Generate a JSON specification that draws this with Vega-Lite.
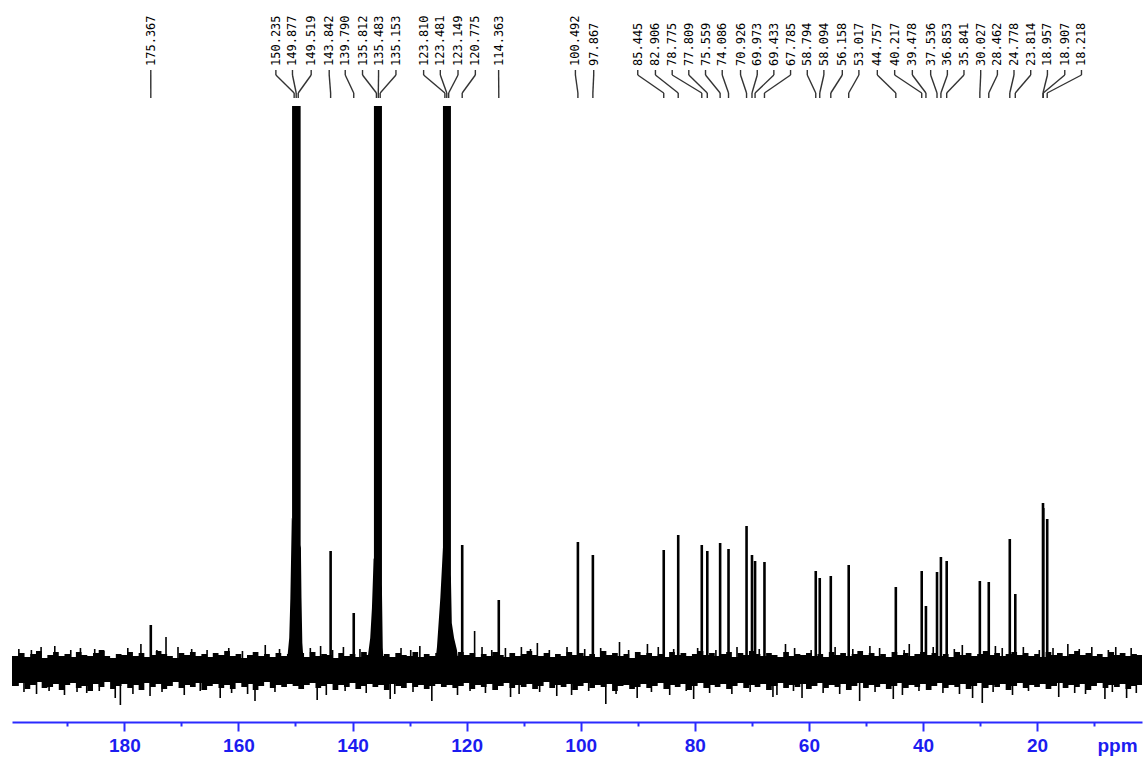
{
"$schema": "https://vega.github.io/schema/vega-lite/v6.json",
"width": 1130, "height": 722,
"autosize": {"type": "none"},
"padding": {"left": 12, "top": 0, "right": 4, "bottom": 38},
"background": "white",
"config": {"view": {"stroke": null}},
"resolve": {"axis": {"x": "independent"}},
"datasets": {
"noise": [
{"p":199.7,"hi":12,"lo":-18},{"p":199,"hi":12,"lo":-18},{"p":198,"hi":15,"lo":-15},{"p":197,"hi":11,"lo":-21},{"p":196,"hi":14,"lo":-17},{"p":195,"hi":17,"lo":-14},{"p":194,"hi":10,"lo":-20},{"p":193,"hi":13,"lo":-19},{"p":192,"hi":16,"lo":-16},{"p":191,"hi":12,"lo":-22},{"p":190,"hi":14,"lo":-17},
{"p":189,"hi":11,"lo":-15},{"p":188,"hi":16,"lo":-20},{"p":187,"hi":13,"lo":-18},{"p":186,"hi":12,"lo":-23},{"p":185,"hi":15,"lo":-16},{"p":184,"hi":18,"lo":-19},{"p":183,"hi":12,"lo":-14},{"p":182,"hi":10,"lo":-21},{"p":181,"hi":14,"lo":-18},{"p":180,"hi":13,"lo":-16},
{"p":179,"hi":16,"lo":-20},{"p":178,"hi":12,"lo":-17},{"p":177,"hi":15,"lo":-22},{"p":176,"hi":11,"lo":-15},{"p":175,"hi":13,"lo":-19},{"p":174,"hi":17,"lo":-16},{"p":173,"hi":14,"lo":-21},{"p":172,"hi":12,"lo":-18},{"p":171,"hi":10,"lo":-14},{"p":170,"hi":15,"lo":-20},
{"p":169,"hi":13,"lo":-17},{"p":168,"hi":16,"lo":-19},{"p":167,"hi":12,"lo":-15},{"p":166,"hi":14,"lo":-22},{"p":165,"hi":11,"lo":-18},{"p":164,"hi":15,"lo":-16},{"p":163,"hi":13,"lo":-20},{"p":162,"hi":17,"lo":-17},{"p":161,"hi":12,"lo":-21},{"p":160,"hi":14,"lo":-15},
{"p":159,"hi":10,"lo":-19},{"p":158,"hi":13,"lo":-16},{"p":157,"hi":16,"lo":-22},{"p":156,"hi":12,"lo":-18},{"p":155,"hi":14,"lo":-14},{"p":154,"hi":11,"lo":-20},{"p":153,"hi":15,"lo":-17},{"p":152,"hi":12,"lo":-19},{"p":151,"hi":14,"lo":-16},{"p":150,"hi":13,"lo":-18},
{"p":149,"hi":15,"lo":-21},{"p":148,"hi":11,"lo":-17},{"p":147,"hi":16,"lo":-15},{"p":146,"hi":12,"lo":-20},{"p":145,"hi":14,"lo":-18},{"p":144,"hi":13,"lo":-16},{"p":143,"hi":10,"lo":-22},{"p":142,"hi":15,"lo":-17},{"p":141,"hi":12,"lo":-19},{"p":140,"hi":14,"lo":-15},
{"p":139,"hi":11,"lo":-21},{"p":138,"hi":16,"lo":-18},{"p":137,"hi":13,"lo":-16},{"p":136,"hi":15,"lo":-19},{"p":135,"hi":12,"lo":-17},{"p":134,"hi":14,"lo":-22},{"p":133,"hi":11,"lo":-16},{"p":132,"hi":15,"lo":-18},{"p":131,"hi":13,"lo":-20},{"p":130,"hi":12,"lo":-15},
{"p":129,"hi":16,"lo":-19},{"p":128,"hi":11,"lo":-17},{"p":127,"hi":14,"lo":-21},{"p":126,"hi":12,"lo":-18},{"p":125,"hi":15,"lo":-16},{"p":124,"hi":13,"lo":-19},{"p":123,"hi":14,"lo":-17},{"p":122,"hi":12,"lo":-20},{"p":121,"hi":16,"lo":-18},{"p":120,"hi":13,"lo":-15},
{"p":119,"hi":15,"lo":-21},{"p":118,"hi":11,"lo":-17},{"p":117,"hi":14,"lo":-19},{"p":116,"hi":12,"lo":-16},{"p":115,"hi":16,"lo":-22},{"p":114,"hi":13,"lo":-18},{"p":113,"hi":11,"lo":-15},{"p":112,"hi":15,"lo":-20},{"p":111,"hi":12,"lo":-17},{"p":110,"hi":14,"lo":-19},
{"p":109,"hi":17,"lo":-16},{"p":108,"hi":13,"lo":-21},{"p":107,"hi":12,"lo":-18},{"p":106,"hi":15,"lo":-14},{"p":105,"hi":11,"lo":-20},{"p":104,"hi":14,"lo":-17},{"p":103,"hi":12,"lo":-19},{"p":102,"hi":16,"lo":-16},{"p":101,"hi":13,"lo":-22},{"p":100,"hi":15,"lo":-18},
{"p":99,"hi":12,"lo":-15},{"p":98,"hi":14,"lo":-20},{"p":97,"hi":11,"lo":-17},{"p":96,"hi":17,"lo":-19},{"p":95,"hi":13,"lo":-16},{"p":94,"hi":15,"lo":-23},{"p":93,"hi":12,"lo":-18},{"p":92,"hi":14,"lo":-17},{"p":91,"hi":10,"lo":-21},{"p":90,"hi":16,"lo":-19},
{"p":89,"hi":13,"lo":-16},{"p":88,"hi":15,"lo":-20},{"p":87,"hi":12,"lo":-18},{"p":86,"hi":14,"lo":-15},{"p":85,"hi":11,"lo":-21},{"p":84,"hi":16,"lo":-17},{"p":83,"hi":13,"lo":-19},{"p":82,"hi":15,"lo":-16},{"p":81,"hi":12,"lo":-22},{"p":80,"hi":14,"lo":-18},
{"p":79,"hi":17,"lo":-15},{"p":78,"hi":13,"lo":-20},{"p":77,"hi":15,"lo":-17},{"p":76,"hi":12,"lo":-19},{"p":75,"hi":14,"lo":-16},{"p":74,"hi":16,"lo":-21},{"p":73,"hi":11,"lo":-18},{"p":72,"hi":15,"lo":-15},{"p":71,"hi":13,"lo":-20},{"p":70,"hi":17,"lo":-17},
{"p":69,"hi":14,"lo":-19},{"p":68,"hi":12,"lo":-16},{"p":67,"hi":15,"lo":-22},{"p":66,"hi":13,"lo":-18},{"p":65,"hi":11,"lo":-15},{"p":64,"hi":16,"lo":-20},{"p":63,"hi":12,"lo":-17},{"p":62,"hi":14,"lo":-19},{"p":61,"hi":13,"lo":-16},{"p":60,"hi":15,"lo":-21},
{"p":59,"hi":12,"lo":-18},{"p":58,"hi":14,"lo":-15},{"p":57,"hi":11,"lo":-20},{"p":56,"hi":16,"lo":-17},{"p":55,"hi":13,"lo":-19},{"p":54,"hi":15,"lo":-16},{"p":53,"hi":12,"lo":-22},{"p":52,"hi":14,"lo":-18},{"p":51,"hi":17,"lo":-15},{"p":50,"hi":13,"lo":-20},
{"p":49,"hi":15,"lo":-17},{"p":48,"hi":12,"lo":-19},{"p":47,"hi":14,"lo":-16},{"p":46,"hi":11,"lo":-21},{"p":45,"hi":16,"lo":-18},{"p":44,"hi":13,"lo":-15},{"p":43,"hi":15,"lo":-20},{"p":42,"hi":12,"lo":-17},{"p":41,"hi":14,"lo":-19},{"p":40,"hi":16,"lo":-16},
{"p":39,"hi":13,"lo":-22},{"p":38,"hi":15,"lo":-18},{"p":37,"hi":12,"lo":-15},{"p":36,"hi":14,"lo":-20},{"p":35,"hi":11,"lo":-17},{"p":34,"hi":16,"lo":-19},{"p":33,"hi":13,"lo":-16},{"p":32,"hi":15,"lo":-21},{"p":31,"hi":12,"lo":-18},{"p":30,"hi":14,"lo":-15},
{"p":29,"hi":17,"lo":-20},{"p":28,"hi":13,"lo":-17},{"p":27,"hi":15,"lo":-19},{"p":26,"hi":12,"lo":-16},{"p":25,"hi":14,"lo":-22},{"p":24,"hi":16,"lo":-18},{"p":23,"hi":13,"lo":-15},{"p":22,"hi":15,"lo":-20},{"p":21,"hi":12,"lo":-17},{"p":20,"hi":14,"lo":-19},
{"p":19,"hi":11,"lo":-16},{"p":18,"hi":16,"lo":-21},{"p":17,"hi":13,"lo":-18},{"p":16,"hi":15,"lo":-15},{"p":15,"hi":12,"lo":-20},{"p":14,"hi":14,"lo":-17},{"p":13,"hi":17,"lo":-19},{"p":12,"hi":13,"lo":-16},{"p":11,"hi":15,"lo":-22},{"p":10,"hi":12,"lo":-18},
{"p":9,"hi":14,"lo":-15},{"p":8,"hi":11,"lo":-20},{"p":7,"hi":16,"lo":-17},{"p":6,"hi":13,"lo":-19},{"p":5,"hi":15,"lo":-16},{"p":4,"hi":12,"lo":-21},{"p":3,"hi":14,"lo":-18},{"p":2,"hi":13,"lo":-17},{"p":1.6,"hi":13,"lo":-17}
],
"spikes": [
{"p":172.7,"h":31},{"p":118.6,"h":37},{"p":192.2,"h":22},{"p":177.1,"h":24},{"p":155.3,"h":23},{"p":145.6,"h":22},{"p":128.2,"h":22},{"p":110.4,"h":21},{"p":107.6,"h":25},{"p":93.2,"h":26},{"p":88.3,"h":24},{"p":64.1,"h":24},{"p":49.3,"h":22},{"p":42.4,"h":24},{"p":33.1,"h":23},{"p":27.3,"h":22},{"p":14.6,"h":24},{"p":6.2,"h":21},
{"p":180.7,"h":-37},{"p":181.6,"h":-30},{"p":175.5,"h":-28},{"p":163.2,"h":-30},{"p":157.1,"h":-33},{"p":146.2,"h":-32},{"p":133.4,"h":-31},{"p":126.1,"h":-33},{"p":112.3,"h":-29},{"p":104.2,"h":-28},{"p":95.6,"h":-36},{"p":90.1,"h":-30},{"p":80.2,"h":-31},{"p":66.3,"h":-29},{"p":61.2,"h":-30},{"p":51.1,"h":-33},{"p":45.2,"h":-31},{"p":31.3,"h":-30},{"p":29.6,"h":-35},{"p":16.2,"h":-29},{"p":8.1,"h":-31},{"p":4.3,"h":-30},
{"p":198.5,"h":19},{"p":196.3,"h":18},{"p":194.6,"h":21},{"p":189.4,"h":18},{"p":187.7,"h":20},{"p":185.2,"h":19},{"p":183.6,"h":17},{"p":179.4,"h":20},{"p":174.3,"h":18},{"p":170.6,"h":21},{"p":168.2,"h":19},{"p":165.5,"h":18},{"p":161.7,"h":20},{"p":159.3,"h":17},{"p":152.8,"h":19},{"p":147.4,"h":20},{"p":143.5,"h":18},{"p":141.6,"h":21},{"p":138.7,"h":19},{"p":131.5,"h":20},{"p":129.8,"h":18},{"p":124.9,"h":19},{"p":117.3,"h":21},{"p":115.6,"h":18},{"p":113.2,"h":20},{"p":108.8,"h":19},{"p":105.5,"h":18},{"p":102.4,"h":21},{"p":99.3,"h":19},{"p":96.5,"h":20},{"p":91.6,"h":18},{"p":86.4,"h":21},{"p":83.7,"h":19},{"p":79.5,"h":20},{"p":76.3,"h":18},{"p":72.6,"h":21},{"p":68.7,"h":19},{"p":62.5,"h":20},{"p":59.6,"h":18},{"p":55.4,"h":21},{"p":52.3,"h":19},{"p":47.6,"h":20},{"p":43.3,"h":18},{"p":38.2,"h":21},{"p":34.5,"h":19},{"p":26.1,"h":20},{"p":22.4,"h":21},{"p":19.6,"h":18},{"p":17.2,"h":20},{"p":12.6,"h":19},{"p":10.4,"h":21},{"p":7.5,"h":18},{"p":3.5,"h":20},
{"p":197.6,"h":-24},{"p":195.4,"h":-26},{"p":193.2,"h":-23},{"p":190.5,"h":-27},{"p":188.3,"h":-24},{"p":186.6,"h":-25},{"p":184.4,"h":-23},{"p":178.5,"h":-26},{"p":173.4,"h":-24},{"p":169.5,"h":-27},{"p":166.7,"h":-23},{"p":161.2,"h":-25},{"p":158.4,"h":-26},{"p":153.6,"h":-24},{"p":144.6,"h":-27},{"p":141.3,"h":-23},{"p":137.6,"h":-25},{"p":132.6,"h":-26},{"p":129.4,"h":-24},{"p":121.6,"h":-27},{"p":119.4,"h":-23},{"p":116.7,"h":-25},{"p":110.8,"h":-26},{"p":107.2,"h":-24},{"p":101.6,"h":-27},{"p":98.6,"h":-23},{"p":93.8,"h":-26},{"p":87.6,"h":-24},{"p":84.4,"h":-27},{"p":81.5,"h":-23},{"p":77.4,"h":-25},{"p":73.5,"h":-26},{"p":70.3,"h":-24},{"p":65.6,"h":-27},{"p":62.7,"h":-23},{"p":57.5,"h":-25},{"p":54.6,"h":-26},{"p":48.4,"h":-24},{"p":43.6,"h":-27},{"p":40.7,"h":-23},{"p":36.5,"h":-25},{"p":33.6,"h":-26},{"p":27.7,"h":-24},{"p":24.3,"h":-27},{"p":21.5,"h":-23},{"p":13.4,"h":-25},{"p":11.5,"h":-26},{"p":6.8,"h":-24},{"p":2.6,"h":-25}
],
"peaks": [
{"p":175.367,"h":43,"lab":"175.367","lx":175.37},
{"p":150.235,"h":562,"lab":"150.235","lx":153.44},
{"p":149.877,"h":562,"lab":"149.877","lx":150.53},
{"p":149.519,"h":562,"lab":"149.519","lx":147.25},
{"p":143.842,"h":117,"lab":"143.842","lx":144.09},
{"p":139.79,"h":55,"lab":"139.790","lx":141.28},
{"p":135.812,"h":562,"lab":"135.812","lx":138.25},
{"p":135.483,"h":562,"lab":"135.483","lx":135.44},
{"p":135.153,"h":562,"lab":"135.153","lx":132.39},
{"p":123.81,"h":562,"lab":"123.810","lx":127.54},
{"p":123.481,"h":562,"lab":"123.481","lx":124.61},
{"p":123.149,"h":562,"lab":"123.149","lx":121.51},
{"p":120.775,"h":123,"lab":"120.775","lx":118.47},
{"p":114.363,"h":68,"lab":"114.363","lx":114.39},
{"p":100.492,"h":126,"lab":"100.492","lx":100.93},
{"p":97.867,"h":113,"lab":"97.867","lx":97.72},
{"p":85.445,"h":118,"lab":"85.445","lx":90.0},
{"p":82.906,"h":133,"lab":"82.906","lx":86.9},
{"p":78.775,"h":123,"lab":"78.775","lx":83.96},
{"p":77.809,"h":117,"lab":"77.809","lx":81.05},
{"p":75.559,"h":125,"lab":"75.559","lx":78.12},
{"p":74.086,"h":119,"lab":"74.086","lx":75.19},
{"p":70.926,"h":142,"lab":"70.926","lx":71.98},
{"p":69.973,"h":113,"lab":"69.973","lx":69.05},
{"p":69.433,"h":107,"lab":"69.433","lx":66.14},
{"p":67.785,"h":106,"lab":"67.785","lx":63.21},
{"p":58.794,"h":97,"lab":"58.794","lx":60.28},
{"p":58.094,"h":90,"lab":"58.094","lx":57.37},
{"p":56.158,"h":92,"lab":"56.158","lx":54.14},
{"p":53.017,"h":103,"lab":"53.017","lx":51.23},
{"p":44.757,"h":81,"lab":"44.757","lx":48.0},
{"p":40.217,"h":97,"lab":"40.217","lx":44.96},
{"p":39.478,"h":62,"lab":"39.478","lx":41.86},
{"p":37.536,"h":96,"lab":"37.536","lx":38.65},
{"p":36.853,"h":111,"lab":"36.853","lx":35.72},
{"p":35.841,"h":107,"lab":"35.841","lx":32.81},
{"p":30.027,"h":87,"lab":"30.027","lx":29.88},
{"p":28.462,"h":86,"lab":"28.462","lx":26.95},
{"p":24.778,"h":129,"lab":"24.778","lx":24.04},
{"p":23.814,"h":74,"lab":"23.814","lx":21.11},
{"p":18.957,"h":165,"lab":"18.957","lx":18.18},
{"p":18.907,"h":160,"lab":"18.907","lx":15.14},
{"p":18.218,"h":149,"lab":"18.218","lx":12.21}
],
"big": [
{"a":150.6,"b":149.1,"h":562},{"a":136.25,"b":134.85,"h":562},{"a":124.15,"b":122.75,"h":562}
],
"flank": [
{"g":1,"p":151.6,"h":0},{"g":1,"p":151.1,"h":30},{"g":1,"p":150.9,"h":70},{"g":1,"p":150.65,"h":150},{"g":1,"p":149.05,"h":120},{"g":1,"p":148.95,"h":70},{"g":1,"p":148.8,"h":25},{"g":1,"p":148.5,"h":0},
{"g":2,"p":137.8,"h":0},{"g":2,"p":137.4,"h":8},{"g":2,"p":136.9,"h":30},{"g":2,"p":136.6,"h":60},{"g":2,"p":136.3,"h":110},{"g":2,"p":134.85,"h":80},{"g":2,"p":134.7,"h":20},{"g":2,"p":134.5,"h":0},
{"g":3,"p":125.6,"h":0},{"g":3,"p":125.2,"h":21},{"g":3,"p":124.6,"h":71},{"g":3,"p":124.15,"h":120},{"g":3,"p":122.75,"h":90},{"g":3,"p":122.6,"h":45},{"g":3,"p":122.2,"h":30},{"g":3,"p":121.7,"h":18},{"g":3,"p":121.3,"h":0}
]
},
"layer": [
{"data": {"name": "noise"},
 "mark": {"type": "area", "interpolate": "step", "color": "black"},
 "encoding": {
  "x": {"field": "p", "type": "quantitative",
        "scale": {"domain": [1.6, 199.7], "reverse": true, "nice": false, "zero": false},
        "axis": {"values": [20,40,60,80,100,120,140,160,180], "orient": "bottom", "format": "d",
                 "domainColor": "#2a2aff", "domainWidth": 2, "tickColor": "#2a2aff", "tickWidth": 2, "tickSize": 9,
                 "labelColor": "#1c1cf0", "labelFont": "Liberation Sans", "labelFontWeight": "bold", "labelFontSize": 19,
                 "labelPadding": 5, "labelFlush": false, "grid": false,
                 "title": "ppm", "titleColor": "#1c1cf0", "titleFont": "Liberation Sans", "titleFontWeight": "bold", "titleFontSize": 19,
                 "titleX": 1105, "titleY": 14, "titleBaseline": "top", "titleAlign": "center", "titlePadding": 0}},
  "y": {"field": "hi", "type": "quantitative", "scale": {"domain": [-54, 668], "nice": false, "zero": false}, "axis": null},
  "y2": {"field": "lo"}}},
{"data": {"name": "spikes"},
 "mark": {"type": "rule", "color": "black", "strokeWidth": 1.6},
 "encoding": {
  "x": {"field": "p", "type": "quantitative",
        "axis": {"values": [10,30,50,70,90,110,130,150,170,190], "orient": "bottom", "domain": false, "labels": false,
                 "tickColor": "#2a2aff", "tickWidth": 2, "tickSize": 4, "grid": false, "title": null}},
  "y": {"field": "h", "type": "quantitative", "axis": null},
  "y2": {"datum": 0}}},
{"data": {"name": "flank"},
 "mark": {"type": "area", "color": "black"},
 "encoding": {
  "x": {"field": "p", "type": "quantitative", "axis": null},
  "y": {"field": "h", "type": "quantitative", "axis": null},
  "y2": {"datum": 0},
  "detail": {"field": "g"}}},
{"data": {"name": "big"},
 "mark": {"type": "rect", "color": "black"},
 "encoding": {
  "x": {"field": "a", "type": "quantitative", "axis": null},
  "x2": {"field": "b"},
  "y": {"field": "h", "type": "quantitative", "axis": null},
  "y2": {"datum": 0}}},
{"data": {"name": "peaks"},
 "mark": {"type": "rule", "color": "black", "strokeWidth": 2.6},
 "encoding": {
  "x": {"field": "p", "type": "quantitative", "axis": null},
  "y": {"field": "h", "type": "quantitative", "axis": null},
  "y2": {"datum": 0}}},
{"data": {"name": "peaks"},
 "mark": {"type": "rule", "color": "#333333", "strokeWidth": 1.4},
 "encoding": {
  "x": {"field": "lx", "type": "quantitative", "axis": null},
  "y": {"datum": 598}, "y2": {"datum": 593}}},
{"data": {"name": "peaks"},
 "mark": {"type": "rule", "color": "#333333", "strokeWidth": 1.4},
 "encoding": {
  "x": {"field": "lx", "type": "quantitative", "axis": null},
  "x2": {"field": "p"},
  "y": {"datum": 593}, "y2": {"datum": 575}}},
{"data": {"name": "peaks"},
 "mark": {"type": "rule", "color": "#333333", "strokeWidth": 1.4},
 "encoding": {
  "x": {"field": "p", "type": "quantitative", "axis": null},
  "y": {"datum": 575}, "y2": {"datum": 570}}},
{"data": {"name": "peaks"},
 "mark": {"type": "text", "angle": 270, "align": "left", "baseline": "middle", "font": "DejaVu Sans Mono", "fontSize": 12, "color": "black"},
 "encoding": {
  "x": {"field": "lx", "type": "quantitative", "axis": null},
  "y": {"datum": 602},
  "text": {"field": "lab"}}}
]
}
